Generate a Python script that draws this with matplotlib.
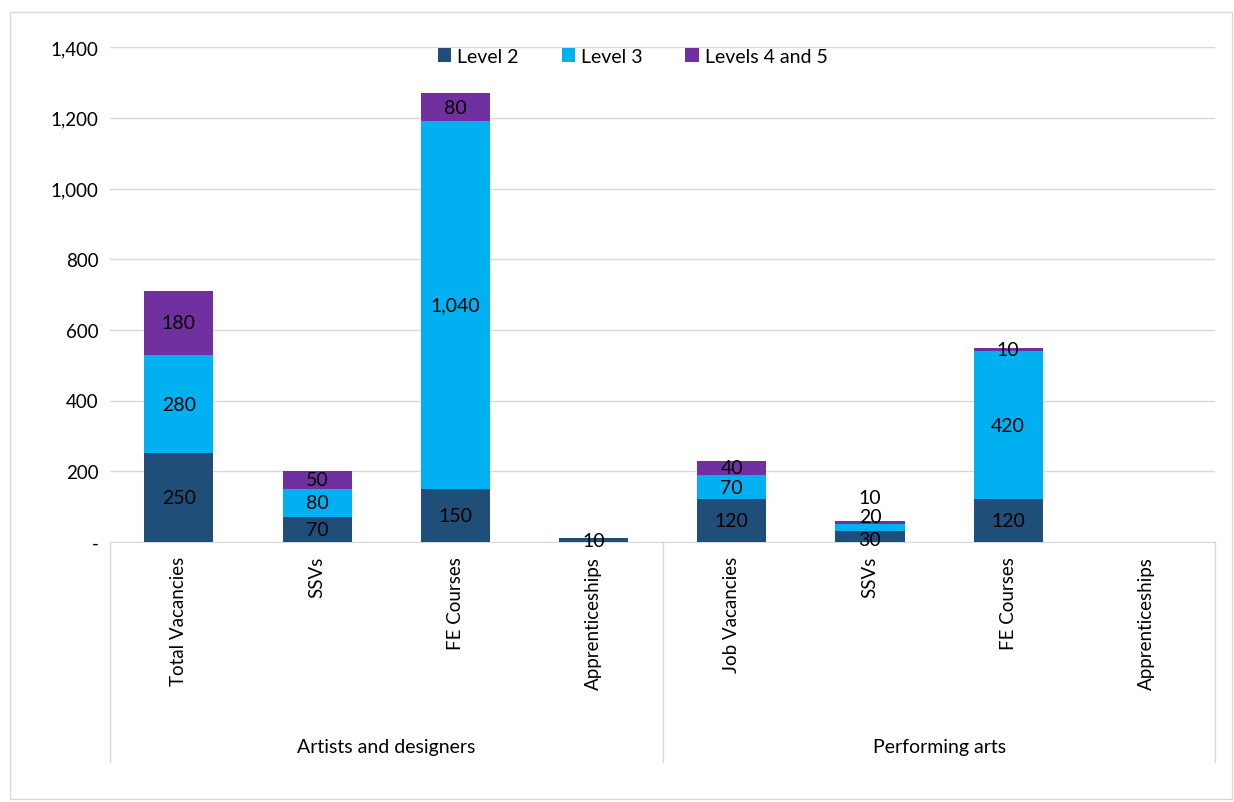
import matplotlib.pyplot as plt
from matplotlib.patches import Rectangle
import numpy as np

plt.rcParams['font.family'] = ['Lato', 'DejaVu Sans']

categories = ['Total Vacancies', 'SSVs', 'FE Courses', 'Apprenticeships',
              'Job Vacancies', 'SSVs', 'FE Courses', 'Apprenticeships']
groups = ['Artists and designers', 'Performing arts']
level2 = [250, 70, 150, 10, 120, 30, 120, 0]
level3 = [280, 80, 1040, 0, 70, 20, 420, 0]
level45 = [180, 50, 80, 0, 40, 10, 10, 0]
series = [('Level 2', level2, '#1F4E79'),
          ('Level 3', level3, '#00B0F0'),
          ('Levels 4 and 5', level45, '#7030A0')]

fig = plt.figure(figsize=(12.34, 8.03), dpi=100)
ax = fig.add_axes([0.089, 0.324, 0.896, 0.616])
fig.patches.append(Rectangle((0.008, 0.004), 0.99, 0.98, transform=fig.transFigure,
                             fill=False, edgecolor='#D9D9D9', lw=1))

# Excel spreads the crowded labels on the small performing-arts SSV stack
nudge = {(5, 'Level 2'): -2, (5, 'Level 3'): 8, (5, 'Levels 4 and 5'): 18}

x = np.arange(len(categories))
bottom = np.zeros(len(categories))
for name, vals, col in series:
    vals = np.array(vals)
    ax.bar(x, vals, 0.5, bottom=bottom, color=col, label=name, zorder=3)
    for i, v in enumerate(vals):
        if v <= 0:
            continue
        yc = bottom[i] + v / 2
        dy = nudge.get((i, name), 0)
        ax.annotate(f'{v:,}', (x[i], yc), xytext=(0, dy), textcoords='offset points',
                    ha='center', va='center', fontsize=14, color='black', zorder=4)
    bottom += vals

ax.set_xlim(-0.5, len(categories) - 0.5)
ax.set_ylim(0, 1400)
yt = np.arange(0, 1401, 200)
ax.set_yticks(yt)
ax.set_yticklabels(['-'] + [f'{v:,}' for v in yt[1:]], fontsize=13.5)
ax.yaxis.grid(True, color='#D9D9D9', lw=1, zorder=0)
ax.tick_params(axis='y', length=0, pad=8)
ax.tick_params(axis='x', length=0, pad=10)
for s in ['top', 'right', 'left']:
    ax.spines[s].set_visible(False)
ax.spines['bottom'].set_color('#D9D9D9')
ax.set_xticks(x)
ax.set_xticklabels(categories, rotation=90, fontsize=13.5, va='top')

# group separators and group labels
for xs in [-0.5, 3.5, 7.5]:
    ax.plot([xs, xs], [0, -0.445], transform=ax.get_xaxis_transform(), clip_on=False,
            color='#D9D9D9', lw=1)
for gi, g in enumerate(groups):
    ax.text(1.5 + 4 * gi, -0.414, g, transform=ax.get_xaxis_transform(),
            ha='center', va='center', fontsize=14)

ax.legend(loc='upper center', bbox_to_anchor=(0.473, 1.022), ncol=3, frameon=False,
          fontsize=14, handlelength=0.7, handleheight=0.7, handletextpad=0.3,
          columnspacing=2.2, borderaxespad=0.2)

fig.savefig('out.png')
